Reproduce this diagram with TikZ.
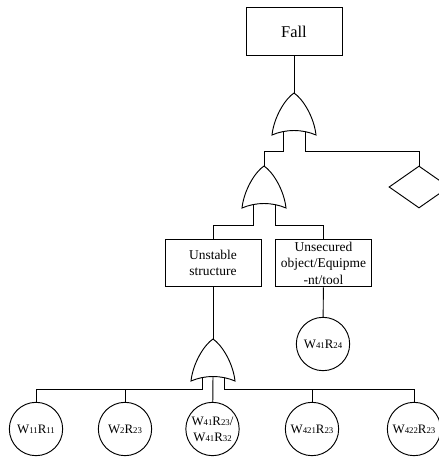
\documentclass[tikz,border=0pt]{standalone}
\usepackage{fontspec}
\setmainfont{Liberation Serif}
\usetikzlibrary{shapes.geometric}
\newcommand{\dg}[1]{{\fontsize{7.5}{9}\selectfont #1}}
\tikzset{
  box/.style={draw, thick, minimum width=2.88cm, minimum height=1.43cm, inner sep=1pt,
    align=center, font=\fontsize{11.5}{14}\selectfont},
  event/.style={draw, thick, circle, minimum size=1.6cm, inner sep=0pt,
    align=center, font=\fontsize{11}{13.6}\selectfont},
  orgate/.pic={
    \draw[thick, fill=white] (0,0) .. controls (-9,6) and (-20,24) .. (-22,42)
      .. controls (-8,36) and (8,36) .. (22,42)
      .. controls (20,24) and (9,6) .. (0,0) -- cycle;
    \coordinate (-out) at (0,0);
    \coordinate (-in1) at (-11,38.6);
    \coordinate (-in2) at (11,38.6);
    \coordinate (-mid) at (0,37.5);
  }
}

\begin{document}
\begin{tikzpicture}[x=0.03cm, y=-0.03cm, thick]
\useasboundingbox (0,0) rectangle (438,457);
\node[box, font=\fontsize{14}{16}\selectfont] (fall) at (294,31.5) {Fall};
\pic (g1) at (294,93) {orgate};
\pic (g2) at (264,166) {orgate};
\node[draw, diamond, minimum width=1.8cm, minimum height=1.26cm, inner sep=0pt] (dia) at (419,187) {};
\node[box] (unst) at (213,263) {Unstable\\structure};
\node[box] (unsec) at (323.5,263) {Unsecured\\object/Equipme\\-nt/tool};
\node[event] (c6) at (323,344) {W\dg{41}R\dg{24}};
\pic (g3) at (213,339) {orgate};
\node[event] (c1) at (36,429) {W\dg{11}R\dg{11}};
\node[event] (c2) at (125,429) {W\dg{2}R\dg{23}};
\node[event] (c3) at (212.5,429) {W\dg{41}R\dg{23}/\\W\dg{41}R\dg{32}};
\node[event] (c4) at (312,429) {W\dg{421}R\dg{23}};
\node[event] (c5) at (414,429) {W\dg{422}R\dg{23}};
\coordinate (b1) at (0,151);
\coordinate (b2) at (0,225);
\coordinate (b3) at (0,389);
\draw (fall) -- (g1-out);
\draw (g1-in1) -- (g1-in1 |- b1) -| (g2-out);
\draw (g1-in2) -- (g1-in2 |- b1) -| (dia.north);
\draw (g2-in1) -- (g2-in1 |- b2) -| (unst);
\draw (g2-in2) -- (g2-in2 |- b2) -| (unsec);
\draw (unsec) -- (c6);
\draw (unst) -- (g3-out);
\draw (g3-in1) -- (g3-in1 |- b3) -| (c1);
\draw (c2) -- (c2 |- b3);
\draw (g3-mid) -- (c3);
\draw (g3-in2) -- (g3-in2 |- b3) -| (c5);
\draw (c4) -- (c4 |- b3);
\end{tikzpicture}
\end{document}
